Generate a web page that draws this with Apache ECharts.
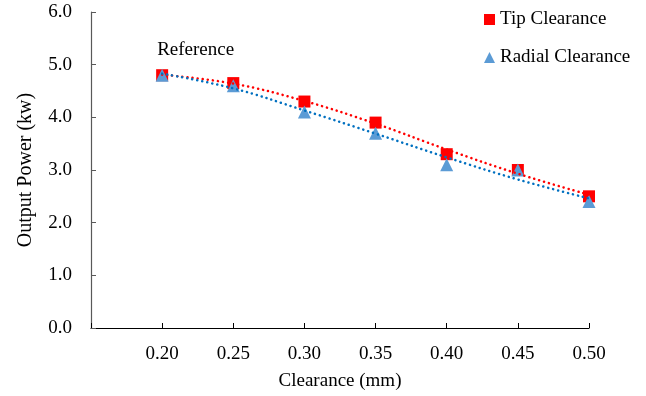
<!DOCTYPE html>
<html>
<head>
<meta charset="utf-8">
<script src="https://cdn.jsdelivr.net/npm/echarts@6/dist/echarts.min.js"></script>
<style>
  html, body { margin: 0; padding: 0; background: #fff; }
  #chart { width: 646px; height: 396px; }
</style>
</head>
<body>
<div id="chart"></div>
<script>
// clearance values (mm)
const clearance = [0.20, 0.25, 0.30, 0.35, 0.40, 0.45, 0.50]
// measured output power (kw)
const tipPower = [4.8, 4.65, 4.3, 3.9, 3.3, 3.0, 2.5]
const radialPower = [4.8, 4.6, 4.1, 3.7, 3.1, 3.0, 2.4]
// dotted trend lines
const tipTrend = [4.81, 4.64, 4.31, 3.88, 3.39, 2.93, 2.53]
const radialTrend = [4.83, 4.55, 4.13, 3.69, 3.24, 2.82, 2.46]
const annotation = 'Reference'

const font = '"Liberation Serif", "Times New Roman", serif'
const pair = (xs, ys) => xs.map((x, i) => [x, ys[i]])

const chart = echarts.init(document.getElementById('chart'))

chart.setOption({
  animation: false,
  textStyle: { fontFamily: font },
  grid: { left: 91, right: 57, top: 12, bottom: 68 },
  legend: {
    data: ['Tip Clearance', 'Radial Clearance'],
    orient: 'vertical',
    left: 479,
    top: 5,
    itemWidth: 11,
    itemHeight: 11,
    itemGap: 19,
    textStyle: { fontFamily: font, fontSize: 19, color: '#000' }
  },
  xAxis: {
    type: 'value',
    min: 0.15,
    max: 0.5,
    interval: 0.05,
    name: 'Clearance (mm)',
    nameLocation: 'middle',
    nameGap: 44,
    nameTextStyle: { fontFamily: font, fontSize: 19, color: '#000' },
    axisLine: { onZero: false, lineStyle: { color: '#000', width: 1.2 } },
    axisTick: { inside: true, length: 5, lineStyle: { color: '#000' } },
    axisLabel: {
      margin: 17,
      fontFamily: font,
      fontSize: 19,
      color: '#000',
      formatter: v => (v < 0.17 ? '' : v.toFixed(2))
    },
    splitLine: { show: false }
  },
  yAxis: {
    type: 'value',
    min: 0,
    max: 6,
    interval: 1,
    name: 'Output Power (kw)',
    nameLocation: 'middle',
    nameGap: 55,
    nameTextStyle: { fontFamily: font, fontSize: 20, color: '#000' },
    axisLine: { show: true, lineStyle: { color: '#595959', width: 1.2 } },
    axisTick: { show: true, inside: true, length: 5, lineStyle: { color: '#595959' } },
    axisLabel: {
      margin: 19,
      fontFamily: font,
      fontSize: 19,
      color: '#000',
      formatter: v => v.toFixed(1)
    },
    splitLine: { show: false }
  },
  series: [
    {
      name: 'Tip Clearance',
      type: 'scatter',
      symbol: 'rect',
      symbolSize: 12,
      z: 2,
      itemStyle: { color: '#FF0000', opacity: 1 },
      data: pair(clearance, tipPower).map((d, i) =>
        i === 0
          ? {
              value: d,
              label: {
                show: true,
                formatter: annotation,
                position: 'top',
                align: 'left',
                offset: [-5, -5],
                fontFamily: font,
                fontSize: 19,
                color: '#000'
              }
            }
          : d
      )
    },
    {
      name: 'Radial Clearance',
      type: 'scatter',
      symbol: 'triangle',
      symbolSize: 13,
      z: 3,
      itemStyle: { color: '#5B9BD5', opacity: 1 },
      data: pair(clearance, radialPower)
    },
    {
      name: 'Tip trend',
      type: 'line',
      smooth: 0.4,
      showSymbol: false,
      z: 4,
      lineStyle: { color: '#FF0000', width: 2.5, type: [0.1, 5], cap: 'round' },
      data: pair(clearance, tipTrend)
    },
    {
      name: 'Radial trend',
      type: 'line',
      smooth: 0.4,
      showSymbol: false,
      z: 5,
      lineStyle: { color: '#0070C0', width: 2.5, type: [0.1, 5], cap: 'round' },
      data: pair(clearance, radialTrend)
    }
  ]
})
</script>
</body>
</html>
